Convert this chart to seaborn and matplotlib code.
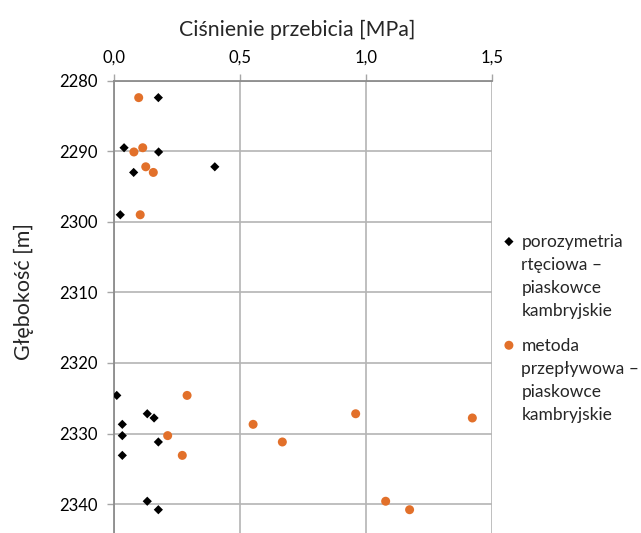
import matplotlib
matplotlib.use("Agg")
import matplotlib.pyplot as plt
import seaborn as sns
import pandas as pd

sns.set_theme(style="white")
plt.rcParams['font.family'] = ['Lato', 'DejaVu Sans']

# depth [m]
depth = [2282.4, 2289.5, 2290.1, 2292.2, 2293.0, 2299.0, 2324.6, 2327.2, 2327.8,
         2328.7, 2330.3, 2331.2, 2333.1, 2339.6, 2340.8]
# porozymetria rteciowa [MPa]
p_hg = [0.176, 0.040, 0.177, 0.400, 0.078, 0.025, 0.011, 0.132, 0.159,
        0.033, 0.033, 0.176, 0.033, 0.132, 0.176]
# metoda przeplywowa [MPa]
p_flow = [0.098, 0.114, 0.079, 0.126, 0.156, 0.104, 0.290, 0.959, 1.422,
          0.552, 0.213, 0.668, 0.271, 1.078, 1.173]

label_hg = "porozymetria\nrtęciowa –\npiaskowce\nkambryjskie"
label_flow = "metoda\nprzepływowa –\npiaskowce\nkambryjskie"

x_ticks = [0.0, 0.5, 1.0, 1.5]
x_tick_labels = ["0,0", "0,5", "1,0", "1,5"]
y_ticks = [2280, 2290, 2300, 2310, 2320, 2330, 2340]

df = pd.DataFrame({'depth': depth, 'hg': p_hg, 'flow': p_flow})

fig = plt.figure(figsize=(6.41, 5.33), dpi=100)
ax = fig.add_axes([114 / 641, 0.0, 378 / 641, 452.3 / 533])

sns.scatterplot(x='hg', y='depth', data=df, marker='D', color='black', s=22,
                edgecolor='none', label=label_hg, ax=ax, zorder=3)
sns.scatterplot(x='flow', y='depth', data=df, marker='o', color='#e2702a', s=42,
                edgecolor='none', label=label_flow, ax=ax, zorder=3)

ax.set_xlim(0, 1.5)
ax.set_ylim(2344.1, 2280)
ax.xaxis.tick_top()
ax.xaxis.set_label_position('top')
ax.set_xticks(x_ticks)
ax.set_xticklabels(x_tick_labels)
ax.set_yticks(y_ticks)
ax.tick_params(axis='both', labelsize=12, colors='#a6a6a6', labelcolor='black',
               length=5, width=1, pad=3)
ax.tick_params(axis='x', top=True, bottom=False, pad=6)
ax.tick_params(axis='y', left=True, pad=7)

ax.grid(True, color='#b4b4b4', linewidth=1.2)
for side in ['right', 'bottom']:
    ax.spines[side].set_visible(False)
ax.spines['top'].set_color('#8c8c8c')
ax.spines['left'].set_color('#8c8c8c')
ax.spines['top'].set_linewidth(1.3)
ax.spines['left'].set_linewidth(1.3)

ax.set_xlabel('Ciśnienie przebicia [MPa]', fontsize=15.3)
ax.xaxis.set_label_coords((297 - 114) / 378, 1 + (80.7 - 30) / 452.3)
ax.xaxis.label.set_va('center')
ax.set_ylabel('Głębokość [m]', fontsize=15.5)
ax.yaxis.set_label_coords(-(114 - 24) / 378, 1 - (291 - 80.7) / 452.3)
ax.yaxis.label.set_va('center')

leg = ax.legend(loc='upper left', bbox_to_anchor=(505 / 641, (533 - 234) / 533),
                bbox_transform=fig.transFigure, frameon=False, fontsize=12.5,
                handlelength=0.45, handletextpad=0.5, labelspacing=1.05,
                borderaxespad=0, borderpad=0)
for t in leg.get_texts():
    t.set_linespacing(1.55)
for col in leg._legend_handle_box.get_children():
    for hp in col.get_children():
        hp.align = 'top'

fig.savefig('out.png', dpi=100)
